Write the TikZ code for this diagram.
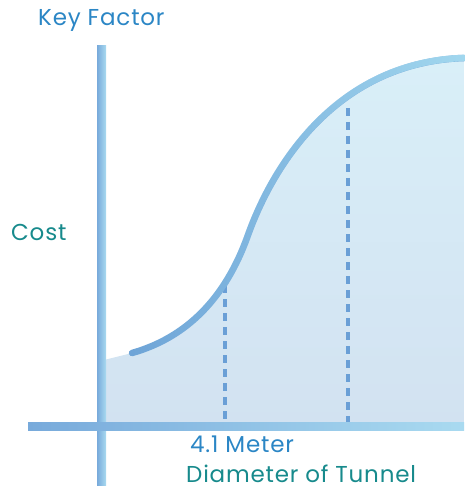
\documentclass[tikz,border=0pt]{standalone}
\usepackage{fontspec}
\setmainfont{Poppins}[LetterSpace=3.5]
\usetikzlibrary{fadings}
\definecolor{keyblue}{HTML}{2B86C5}
\definecolor{teal}{HTML}{178A8C}
\definecolor{curvedark}{HTML}{6EA4D7}
\definecolor{curvelight}{HTML}{A2D8EF}
\definecolor{dashblue}{HTML}{6A9FD6}
\definecolor{filltop}{HTML}{D9EFF8}
\definecolor{fillbot}{HTML}{D2E2F1}
\definecolor{axisdark}{HTML}{78AADB}
\definecolor{axislight}{HTML}{A9DAF0}
\tikzfading[name=fadeleft, left color=transparent!100, right color=transparent!0]
\tikzset{
  lbl/.style={anchor=base west, inner sep=0pt, font=\fontsize{23}{23}\selectfont},
  guide/.style={dashblue, line width=3.5pt, dash pattern=on 8pt off 6pt},
  curveline/.style={line width=6.5pt, line cap=round},
}
\begin{document}
\begin{tikzpicture}[x=1pt, y=-1pt]
\useasboundingbox (0,0) rectangle (464,486);
% fill under curve
\shade[top color=filltop, bottom color=fillbot]
  (104,360) -- (132,353) .. controls (185,338) and (225,300) .. (248,235)
  .. controls (275,160) and (340,62) .. (464,58) -- (464,426) -- (104,426) -- cycle;
% vertical axis
\shade[left color=axisdark, right color=axislight] (97,46) rectangle (106,486);
% horizontal axis
\shade[left color=axisdark, right color=axislight] (28,422) rectangle (464,430);
% guides
\coordinate (g1top) at (225,285);
\coordinate (g1bot) at (225,422);
\coordinate (g2top) at (348,108);
\coordinate (g2bot) at (348,422);
\draw[guide] (g1top) -- (g1bot);
\draw[guide] (g2top) -- (g2bot);
% curve
\coordinate (c0) at (132,353);
\coordinate (c1) at (248,235);
\coordinate (c2) at (464,58);
\draw[curveline, curvedark] (c0) .. controls (185,338) and (225,300) .. (c1)
  .. controls (275,160) and (340,62) .. (c2);
\draw[curveline, curvelight, path fading=fadeleft] (c0) .. controls (185,338) and (225,300) .. (c1)
  .. controls (275,160) and (340,62) .. (c2);
% labels
\node[lbl, keyblue] (key) at (38,26) {Key Factor};
\node[lbl, teal] (cost) at (11,240.5) {Cost};
\node[lbl, keyblue] (meter) at (190,452) {4.1 Meter};
\node[lbl, teal] (diam) at (186,482) {Diameter of Tunnel};
\end{tikzpicture}
\end{document}
